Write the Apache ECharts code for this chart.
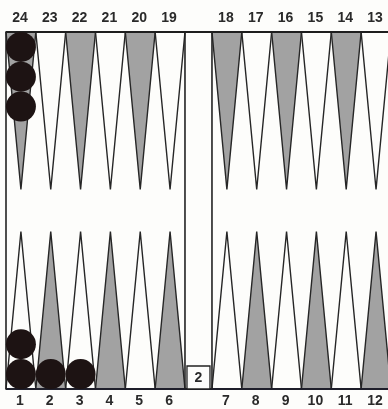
<!DOCTYPE html>
<html>
<head>
<meta charset="utf-8">
<script src="https://cdn.jsdelivr.net/npm/echarts@6/dist/echarts.min.js"></script>
<style>
html,body{margin:0;padding:0;background:#fdfdfb;}
#board{width:388px;height:409px;}
</style>
</head>
<body>
<div id="board"></div>
<script>
// 点位编号：上排、下排（从左到右）
const topPoints = [24, 23, 22, 21, 20, 19, 18, 17, 16, 15, 14, 13];
const bottomPoints = [1, 2, 3, 4, 5, 6, 7, 8, 9, 10, 11, 12];
// 深色三角（偶数点）
const darkPoints = [2, 4, 6, 8, 10, 12, 14, 16, 18, 20, 22, 24];
// 棋子：所在点位和数量
const checkerPoints = [24, 1, 2, 3];
const checkerCounts = [3, 2, 1, 1];
// 加倍骰
const cubeValue = 2;

const BAR = 0.905;   // 中间栏宽度（以点宽为单位）
const YMAX = 11.97;
const TRI_H = 5.28;

function colX(col) { return col < 6 ? col + 0.5 : col + 0.5 + BAR; }
function pointX(p) { return p <= 12 ? colX(p - 1) : colX(24 - p); }
function isTop(p) { return p > 12; }

const allPoints = topPoints.concat(bottomPoints);

const checkerData = [];
checkerPoints.forEach(function (p, i) {
  for (let k = 0; k < checkerCounts[i]; k++) {
    checkerData.push([pointX(p), isTop(p) ? YMAX - 0.5 - k : 0.5 + k]);
  }
});

const myChart = echarts.init(document.getElementById('board'));
const LABEL_FONT = 'bold 14px "Liberation Sans", Arial, sans-serif';

const option = {
  animation: false,
  grid: { left: 6, right: 0, top: 32, bottom: 20 },
  xAxis: { type: 'value', min: 0, max: 12.806, show: false },
  yAxis: { type: 'value', min: 0, max: YMAX, show: false },
  series: [
    {
      // 三角形
      type: 'custom',
      clip: false,
      z: 1,
      data: allPoints.map(function (p) { return [p, 0]; }),
      renderItem: function (params, api) {
        const p = api.value(0);
        const cx = pointX(p);
        const base = isTop(p) ? YMAX : 0;
        const tip = isTop(p) ? YMAX - TRI_H : TRI_H;
        const a = api.coord([cx - 0.5, base]);
        const b = api.coord([cx + 0.5, base]);
        const c = api.coord([cx, tip]);
        const dark = darkPoints.indexOf(p) >= 0;
        return {
          type: 'polygon',
          shape: { points: [a, b, c] },
          style: { fill: dark ? '#a2a2a2' : 'rgba(0,0,0,0)', stroke: '#262626', lineWidth: 1.4 }
        };
      }
    },
    {
      // 棋盘边框
      type: 'custom',
      clip: false,
      z: 2,
      data: [[0, 0]],
      renderItem: function (params, api) {
        const tl = api.coord([0, YMAX]);
        const bl = api.coord([0, 0]);
        const tr = api.coord([12.806, YMAX]);
        const b1t = api.coord([6, YMAX]);
        const b1b = api.coord([6, 0]);
        const b2t = api.coord([6 + BAR, YMAX]);
        const b2b = api.coord([6 + BAR, 0]);
        const ls = { stroke: '#222', lineWidth: 1.6 };
        return {
          type: 'group',
          children: [
            { type: 'line', shape: { x1: tl[0], y1: tl[1], x2: tr[0] + 2, y2: tr[1] }, style: { stroke: '#1e1e1e', lineWidth: 2.2 } },
            { type: 'line', shape: { x1: bl[0], y1: bl[1], x2: tr[0] + 2, y2: bl[1] }, style: { stroke: '#1e1e2a', lineWidth: 2.2 } },
            { type: 'line', shape: { x1: tl[0], y1: tl[1], x2: bl[0], y2: bl[1] }, style: ls },
            { type: 'line', shape: { x1: b1t[0], y1: b1t[1], x2: b1b[0], y2: b1b[1] }, style: ls },
            { type: 'line', shape: { x1: b2t[0], y1: b2t[1], x2: b2b[0], y2: b2b[1] }, style: ls }
          ]
        };
      }
    },
    {
      // 棋子
      type: 'scatter',
      z: 3,
      symbol: 'circle',
      symbolSize: 30,
      itemStyle: { color: '#1d1313', opacity: 1 },
      data: checkerData
    },
    {
      // 加倍骰
      type: 'custom',
      clip: false,
      z: 4,
      data: [[6 + BAR / 2, 0, cubeValue]],
      renderItem: function (params, api) {
        const pos = api.coord([api.value(0), api.value(1)]);
        return {
          type: 'group',
          children: [
            { type: 'rect', shape: { x: pos[0] - 11.5, y: pos[1] - 23, width: 23, height: 23 },
              style: { fill: '#fdfdfb', stroke: '#222', lineWidth: 1.3 } },
            { type: 'text', x: pos[0], y: pos[1] - 11,
              style: { text: String(api.value(2)), fill: '#2a2a2a', font: LABEL_FONT, align: 'center', verticalAlign: 'middle' } }
          ]
        };
      }
    },
    {
      // 点位编号
      type: 'custom',
      clip: false,
      z: 5,
      data: allPoints.map(function (p) { return [p, 0]; }),
      renderItem: function (params, api) {
        const p = api.value(0);
        const top = isTop(p);
        const pos = api.coord([pointX(p), top ? YMAX : 0]);
        return {
          type: 'text',
          x: pos[0] - 1,
          y: top ? pos[1] - 14 : pos[1] + 12,
          style: { text: String(p), fill: '#2a2a2a', font: LABEL_FONT, align: 'center', verticalAlign: 'middle' }
        };
      }
    }
  ]
};
myChart.setOption(option);
</script>
</body>
</html>
